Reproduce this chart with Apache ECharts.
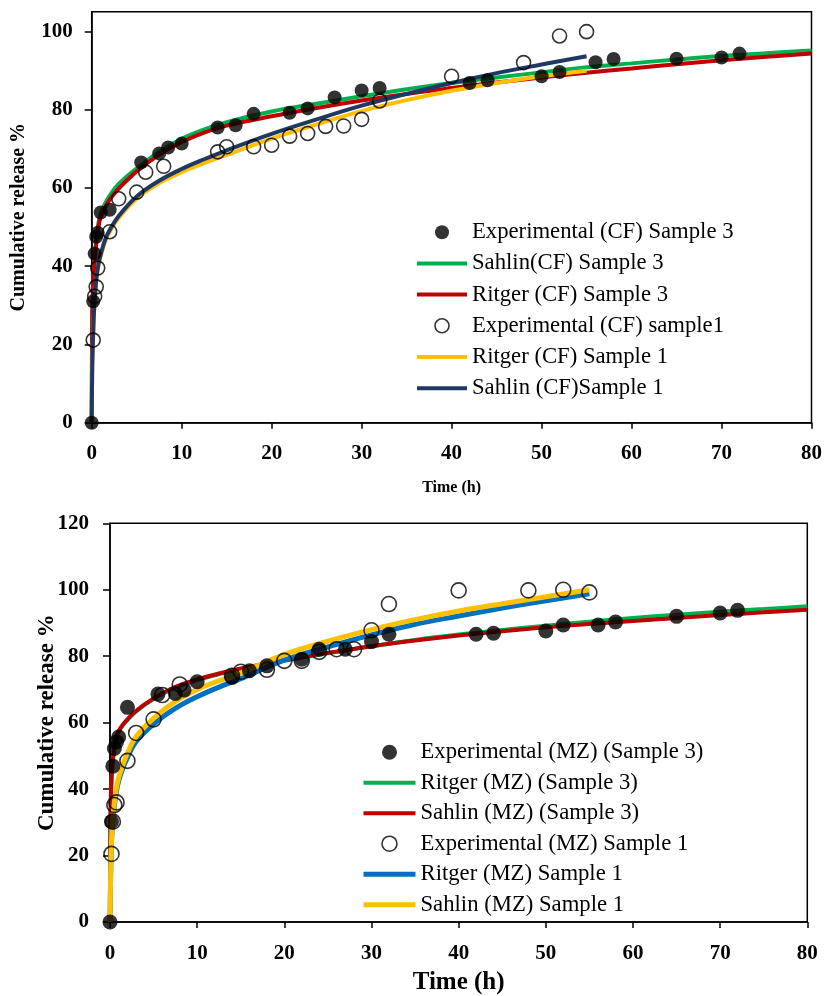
<!DOCTYPE html>
<html>
<head>
<meta charset="utf-8">
<script src="https://cdn.jsdelivr.net/npm/echarts@6/dist/echarts.min.js"></script>
<style>
html,body{margin:0;padding:0;background:#fff;}
#chart{width:825px;height:996px;}
</style>
</head>
<body>
<div id="chart"></div>
<script>
// ---------- Top chart (CF) ----------
const cfS3Time = [0,0.17,0.33,0.5,0.67,1,2,5.5,7.5,8.5,10,14,16,18,22,24,27,30,32,42,44,50,52,56,58,65,70,72];
const cfS3Exp  = [0,31,43.2,47.5,48.5,53.7,54.4,66.5,68.8,70.3,71.3,75.4,76.0,78.9,79.2,80.3,83.1,84.9,85.5,86.8,87.5,88.5,89.6,92.1,92.9,93.0,93.3,94.3];
const cfS1Time = [0.17,0.33,0.5,0.67,2,3,5,6,8,14,15,18,20,22,24,26,28,30,32,40,48,52,55];
const cfS1Exp  = [21.1,32.3,34.7,39.5,48.8,57.2,58.9,64.0,65.5,69.2,70.5,70.5,70.9,73.2,73.9,75.7,75.8,77.5,82.2,88.5,92.0,98.8,99.9];
const fitTime  = [0,0.05,0.1,0.17,0.25,0.5,0.75,1,1.5,2,3,5,7.5,10,12.5,15,20,25,30,35,40,45,50,55,60,65,70,75,80];
const cfS3Sahlin = [0,24,30,35,39.5,46.5,51,53.5,56,58,61,65,69.2,72.5,74.9,76.8,79.5,81.5,83.4,85.2,86.8,88.2,89.5,90.8,91.8,92.8,93.7,94.4,95.1];
const cfS3Ritger = [0,25,31,35,39,45.5,50,52.5,55,57,59.8,64.2,68.5,71.7,74.1,75.9,78.3,80.4,82.3,84,85.5,86.9,88.2,89.4,90.5,91.6,92.6,93.5,94.3];
const cfS1Sahlin = [0,12,18,23,28,36.5,40.5,43,46.8,49.2,52.8,57.8,61.8,64.8,67.3,69.6,73.8,77.5,81,84,86.8,89.3,91.5,93.6];
const cfS1Ritger = [0,12,18,23,28,36,40,42.5,46.3,48.8,52.3,57.2,61.2,64,66.3,68.4,72.6,76.2,79.6,82.4,84.8,86.8,88.5,89.9];

// ---------- Bottom chart (MZ) ----------
const mzS3Time = [0,0.17,0.33,0.5,0.75,1,2,5.5,7.5,8.5,10,14,16,18,22,24,27,30,32,42,44,50,52,56,58,65,70,72];
const mzS3Exp  = [0,30.2,46.9,52.2,54.2,55.7,64.6,68.6,68.8,69.8,72.3,73.6,75.6,77.1,79.1,82.1,82.1,84.4,86.6,86.6,86.9,87.6,89.4,89.4,90.3,92.0,93.0,93.8];
const mzS1Time = [0.17,0.33,0.5,0.75,2,3,5,6,8,14,15,18,20,22,24,26,28,30,32,40,48,52,55];
const mzS1Exp  = [20.5,30.2,35.2,36.0,48.5,56.9,61.0,68.3,71.5,74.1,75.3,75.9,78.6,78.6,81.3,82.1,82.1,87.8,95.7,99.8,99.8,100,99.2];
const mzS3Ritger = [0,28,36,42,46,52,55.2,57.2,59.3,60.8,63.4,67.1,70.5,72.8,74.6,76.1,78.6,80.9,83.0,84.9,86.5,87.9,89.2,90.4,91.5,92.5,93.4,94.2,95.0];
const mzS3Sahlin = [0,30,38,43,47,52.5,55.5,57.5,59.5,61,63.6,67.3,70.8,73.0,74.8,76.3,78.8,81.0,83.0,84.7,86.2,87.5,88.7,89.7,90.6,91.5,92.4,93.2,94.0];
const mzS1Ritger = [0,10,17,23,28,35,39.5,42.5,46.5,49.5,54.3,59.6,64.3,67.8,70.7,73.2,78.8,82.8,86.4,89.6,92.1,94.5,96.7,98.8];
const mzS1Sahlin = [0,10,18,24,29,36,40.5,43.5,47.5,50.8,55.8,61.3,66.4,70,72.6,75,80.5,84.5,88,91,93.6,95.8,97.9,100];

const xTicks = [0,10,20,30,40,50,60,70,80];
const yTicksTop = [0,20,40,60,80,100];
const yTicksBottom = [0,20,40,60,80,100,120];

const zip = (xs, ys) => ys.map((y, i) => [xs[i], y]);
const FONT = "'Liberation Serif','Times New Roman',serif";

const chart = echarts.init(document.getElementById('chart'), null, {renderer: 'canvas'});

function xAxis(gridIndex, nameGap, nameSize, margin) {
  return {
    gridIndex, type: 'value', min: 0, max: 80, interval: 10,
    name: 'Time (h)', nameLocation: 'middle', nameGap, nameMoveOverlap: false,
    nameTextStyle: {fontFamily: FONT, fontWeight: 'bold', fontSize: nameSize, color: '#000'},
    axisLine: {show: true, lineStyle: {color: '#000', width: 1.5}},
    axisTick: {show: true, inside: false, length: 6, lineStyle: {color: '#000', width: 1.5}, customValues: xTicks},
    axisLabel: {fontFamily: FONT, fontWeight: 'bold', fontSize: 21, color: '#000', margin, customValues: xTicks},
    splitLine: {show: false}
  };
}
function yAxis(gridIndex, max, ticks, nameGap, nameSize, margin) {
  return {
    gridIndex, type: 'value', min: 0, max, interval: 20,
    name: 'Cumulative release %', nameLocation: 'middle', nameGap, nameRotate: 90, nameMoveOverlap: false,
    nameTextStyle: {fontFamily: FONT, fontWeight: 'bold', fontSize: nameSize, color: '#000'},
    axisLine: {show: true, lineStyle: {color: '#000', width: 1.5}},
    axisTick: {show: true, inside: false, length: 7, lineStyle: {color: '#000', width: 1.5}, customValues: ticks},
    axisLabel: {fontFamily: FONT, fontWeight: 'bold', fontSize: 21, color: '#000', margin, customValues: ticks},
    splitLine: {show: false}
  };
}

function filled(name, xi, data, size) {
  return {name, type: 'scatter', xAxisIndex: xi, yAxisIndex: xi, data, symbol: 'circle', symbolSize: size,
    itemStyle: {color: '#000', borderWidth: 0}, z: 4};
}
function open(name, xi, data, size) {
  return {name, type: 'scatter', xAxisIndex: xi, yAxisIndex: xi, data, symbol: 'circle', symbolSize: size,
    itemStyle: {color: 'rgba(255,255,255,0)', borderColor: '#000', borderWidth: 1.6}, z: 5};
}
function curve(name, xi, data, color, width) {
  return {name, type: 'line', xAxisIndex: xi, yAxisIndex: xi, data, symbol: 'none', showSymbol: false,
    smooth: 0.4, lineStyle: {color, width}, itemStyle: {color}, z: 3};
}
const lineItem = (name) => ({name, itemStyle: {opacity: 0}});

const legendText = {fontFamily: FONT, fontSize: 22.7, color: '#000', lineHeight: 23};

const option = {
  backgroundColor: '#fff',
  animation: false,
  grid: [
    {left: 91.7, top: 11.7, width: 720.6, height: 411, show: true, borderColor: '#000', borderWidth: 1.5, backgroundColor: 'transparent'},
    {left: 110, top: 523.3, width: 697.3, height: 401, show: true, borderColor: '#000', borderWidth: 1.5, backgroundColor: 'transparent'}
  ],
  xAxis: [xAxis(0, 57, 16, 20), xAxis(1, 48, 25, 21)],
  yAxis: [yAxis(0, 105, yTicksTop, 63, 20, 19), yAxis(1, 120, yTicksBottom, 51.5, 23, 21)],
  legend: [
    {
      left: 415, top: 220.7, padding: 0, orient: 'vertical', itemWidth: 50, itemHeight: 14, itemGap: 8.2,
      selectedMode: false, textStyle: legendText,
      lineStyle: {width: 'inherit'}, itemStyle: {borderWidth: 'inherit'},
      data: ['Experimental (CF) Sample 3', lineItem('Sahlin(CF) Sample 3'), lineItem('Ritger (CF) Sample 3'),
             'Experimental (CF) sample1', lineItem('Ritger (CF) Sample 1'), lineItem('Sahlin (CF)Sample 1')]
    },
    {
      left: 361, top: 740.7, padding: 0, orient: 'vertical', itemWidth: 52, itemHeight: 15, itemGap: 7.5,
      selectedMode: false, textStyle: legendText,
      lineStyle: {width: 'inherit'}, itemStyle: {borderWidth: 'inherit'},
      data: ['Experimental (MZ) (Sample 3)', lineItem('Ritger (MZ) (Sample 3)'), lineItem('Sahlin (MZ) (Sample 3)'),
             'Experimental (MZ) Sample 1', lineItem('Ritger (MZ) Sample 1'), lineItem('Sahlin (MZ) Sample 1')]
    }
  ],
  series: [
    filled('Experimental (CF) Sample 3', 0, zip(cfS3Time, cfS3Exp), 14),
    curve('Sahlin(CF) Sample 3', 0, zip(fitTime, cfS3Sahlin), '#00B050', 4),
    curve('Ritger (CF) Sample 3', 0, zip(fitTime, cfS3Ritger), '#C00000', 4),
    open('Experimental (CF) sample1', 0, zip(cfS1Time, cfS1Exp), 14),
    curve('Ritger (CF) Sample 1', 0, zip(fitTime, cfS1Ritger), '#FFC000', 4),
    curve('Sahlin (CF)Sample 1', 0, zip(fitTime, cfS1Sahlin), '#203864', 4),

    filled('Experimental (MZ) (Sample 3)', 1, zip(mzS3Time, mzS3Exp), 15),
    curve('Ritger (MZ) (Sample 3)', 1, zip(fitTime, mzS3Ritger), '#00B050', 4),
    curve('Sahlin (MZ) (Sample 3)', 1, zip(fitTime, mzS3Sahlin), '#C00000', 4),
    open('Experimental (MZ) Sample 1', 1, zip(mzS1Time, mzS1Exp), 15),
    curve('Ritger (MZ) Sample 1', 1, zip(fitTime, mzS1Ritger), '#0070C0', 5),
    curve('Sahlin (MZ) Sample 1', 1, zip(fitTime, mzS1Sahlin), '#FFC000', 5)
  ]
};
chart.setOption(option);
</script>
</body>
</html>
